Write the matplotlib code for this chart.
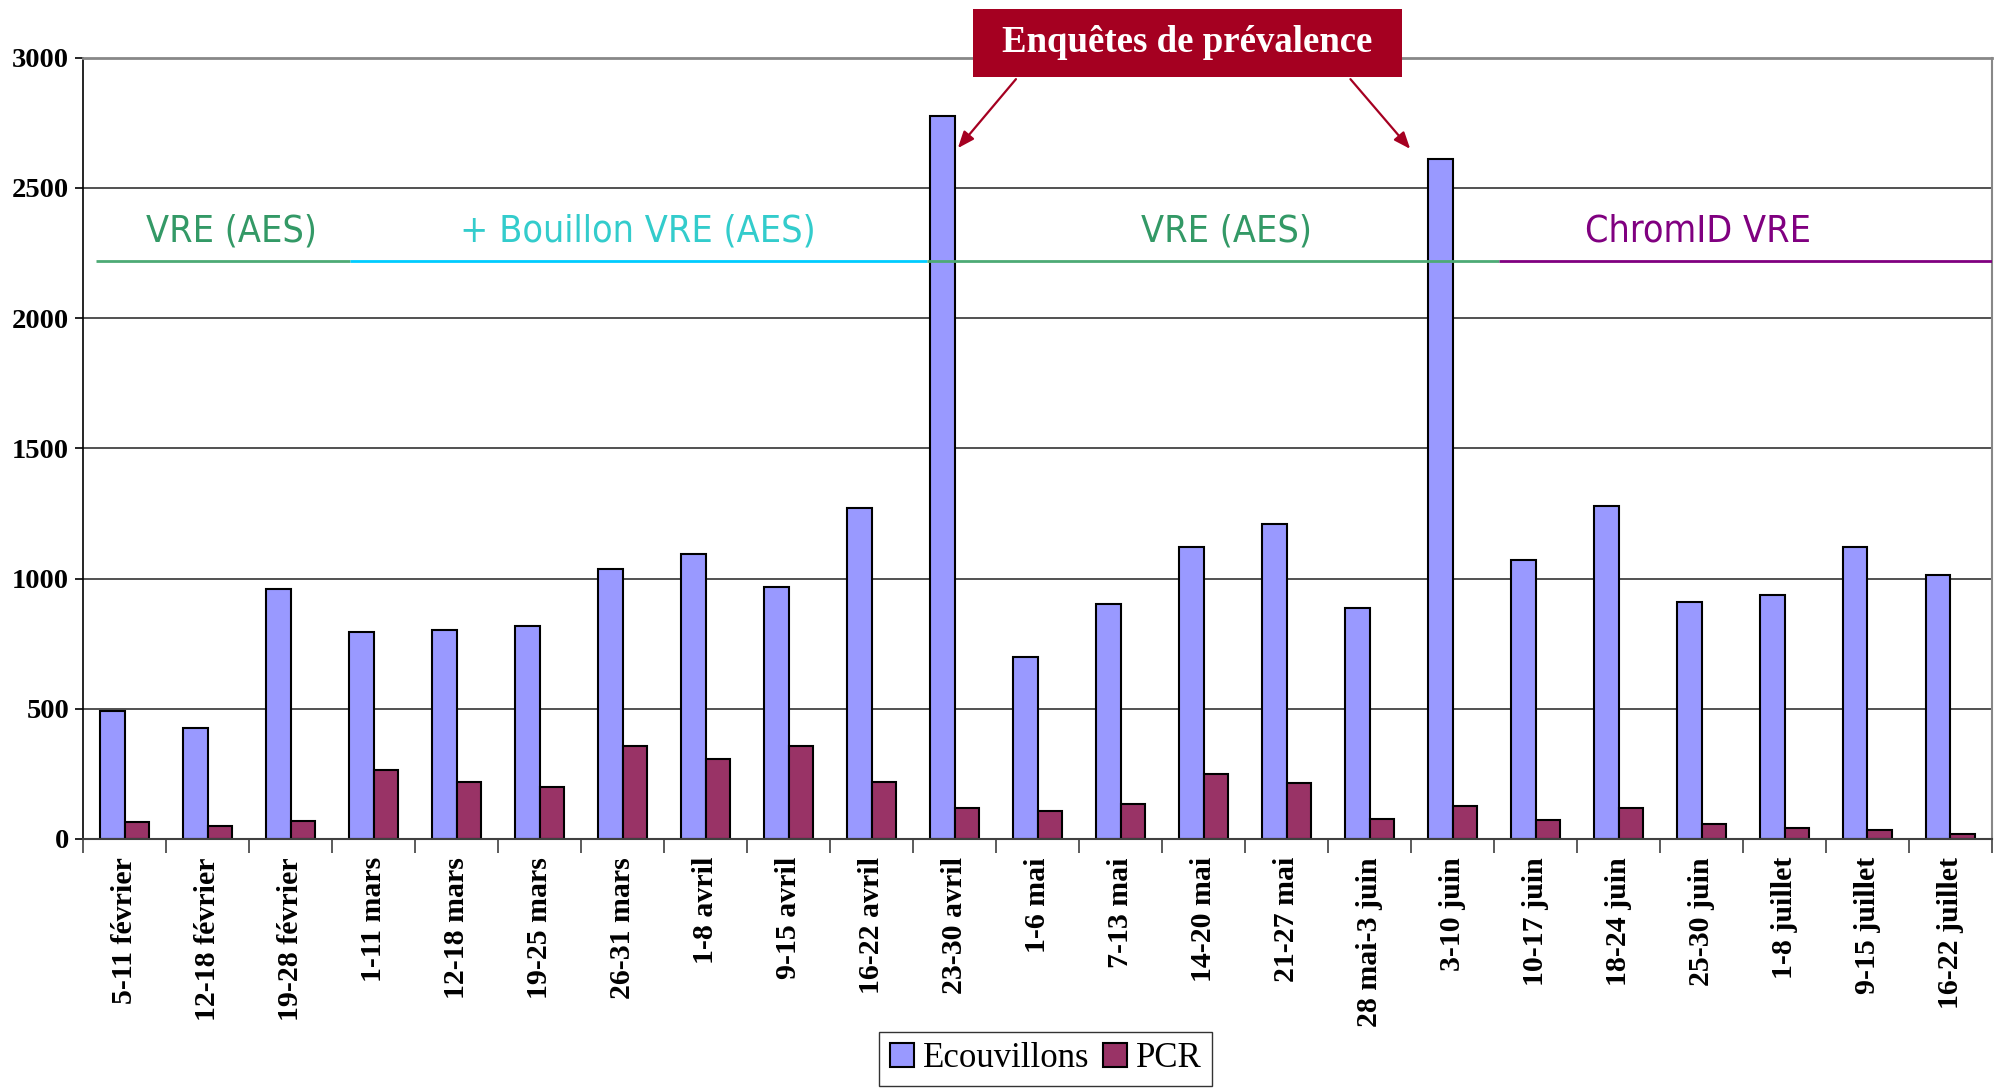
import numpy as np
import matplotlib.pyplot as plt
from matplotlib.patches import Rectangle

semaines = ["5-11 février", "12-18 février", "19-28 février", "1-11 mars",
            "12-18 mars", "19-25 mars", "26-31 mars", "1-8 avril",
            "9-15 avril", "16-22 avril", "23-30 avril", "1-6 mai",
            "7-13 mai", "14-20 mai", "21-27 mai", "28 mai-3 juin",
            "3-10 juin", "10-17 juin", "18-24 juin", "25-30 juin",
            "1-8 juillet", "9-15 juillet", "16-22 juillet"]
ecouvillons = [492, 428, 959, 796, 803, 818, 1037, 1095, 966, 1272, 2775, 700,
               903, 1122, 1208, 888, 2610, 1073, 1278, 910, 937, 1122, 1014]
pcr = [64, 49, 70, 263, 220, 200, 357, 307, 357, 220, 120, 107,
       135, 249, 214, 77, 128, 71, 120, 57, 41, 35, 21]

# périodes de milieux de culture (début, fin en position de catégorie)
periodes = ["VRE (AES)", "+ Bouillon VRE (AES)", "VRE (AES)", "ChromID VRE"]
periodes_debut = [-0.34, 2.72, 9.67, 16.56]
periodes_fin = [2.72, 9.67, 16.56, 22.5]
periodes_texte_x = [1.29, 6.18, 13.28, 18.96]
periodes_couleur_texte = ["#339966", "#33CCCC", "#339966", "#800080"]
periodes_couleur_ligne = ["#4DAA75", "#00CCFF", "#4DAA75", "#800080"]
niveau_periode = 2220

# semaines des enquêtes de prévalence
enquetes = [10, 16]

rouge = "#A50021"
serif = "Liberation Serif"
etroite = ["Liberation Sans Narrow", "DejaVu Sans Condensed", "DejaVu Sans"]

fig = plt.figure(figsize=(20.02, 10.90), dpi=100)
ax = fig.add_axes([0.0415, 0.2303, 0.9535, 0.7167])

x = np.arange(len(semaines))
w = 0.3
ax.bar(x - w / 2, ecouvillons, w, color="#9999FF", edgecolor="black",
       linewidth=1.5, label="Ecouvillons", zorder=2)
ax.bar(x + w / 2, pcr, w, color="#993366", edgecolor="black",
       linewidth=1.5, label="PCR", zorder=2)

ax.set_xlim(-0.5, len(semaines) - 0.5)
ax.set_ylim(0, 3000)
ax.set_yticks(np.arange(0, 3001, 500))
ax.yaxis.grid(True, color="#333333", linewidth=1.2)
ax.set_axisbelow(True)

ax.set_xticks(x)
ax.set_xticklabels(semaines, rotation=90, fontfamily=serif,
                   fontweight="bold", fontsize=21.5)
ax.set_xticks(np.arange(-0.5, len(semaines)), minor=True)
ax.tick_params(axis="x", which="major", length=0, pad=13)
ax.tick_params(axis="x", which="minor", length=10, width=1.2,
               color="#404040", direction="out")
ax.tick_params(axis="y", length=6, width=1.2, direction="out", pad=4)
for lab in ax.get_yticklabels():
    lab.set_fontfamily(serif)
    lab.set_fontweight("bold")
    lab.set_fontsize(20.5)

ax.spines["left"].set_color("black")
ax.spines["left"].set_linewidth(1.2)
ax.spines["bottom"].set_color("#404040")
ax.spines["bottom"].set_linewidth(1.5)
ax.spines["top"].set_color("#888888")
ax.spines["top"].set_linewidth(2)
ax.spines["right"].set_color("#888888")
ax.spines["right"].set_linewidth(1.5)

for nom, x0, x1, xt, ct, cl in zip(periodes, periodes_debut, periodes_fin,
                                   periodes_texte_x, periodes_couleur_texte,
                                   periodes_couleur_ligne):
    ax.plot([x0, x1], [niveau_periode, niveau_periode], color=cl,
            linewidth=2, zorder=3, solid_capstyle="butt")
    ax.text(xt, niveau_periode + 112, nom, color=ct, fontsize=27,
            family=etroite, fontstretch="condensed",
            ha="center", va="center", zorder=3)

# encadré des enquêtes de prévalence
fig.patches.append(Rectangle((973 / 2002, 1 - 77 / 1090), 429 / 2002,
                             68 / 1090, transform=fig.transFigure,
                             facecolor=rouge, edgecolor="none"))
fig.text(1187.5 / 2002, 1 - 43 / 1090, "Enquêtes de prévalence",
         color="white", fontsize=26.5, fontfamily=serif, fontweight="bold",
         ha="center", va="center")

depart = [(10.74, 2918), (14.77, 2918)]
pointe = [(enquetes[0] + 0.04, 2653), (enquetes[1] - 0.51, 2650)]
for d, p in zip(depart, pointe):
    ax.annotate("", xy=p, xytext=d, annotation_clip=False,
                arrowprops=dict(arrowstyle="-|>,head_length=1.0,head_width=0.4",
                                color=rouge, linewidth=1.6,
                                shrinkA=0, shrinkB=0))

leg = fig.legend(loc="upper center", bbox_to_anchor=(0.5223, 0.0532),
                 ncol=2, frameon=True, fancybox=False, edgecolor="black",
                 prop={"family": serif, "size": 25}, handlelength=0.7,
                 handleheight=0.7, handletextpad=0.25, columnspacing=0.4,
                 borderpad=0.3, borderaxespad=0)
leg.get_frame().set_linewidth(1)

fig.savefig("out.png", dpi=100, facecolor="white")
